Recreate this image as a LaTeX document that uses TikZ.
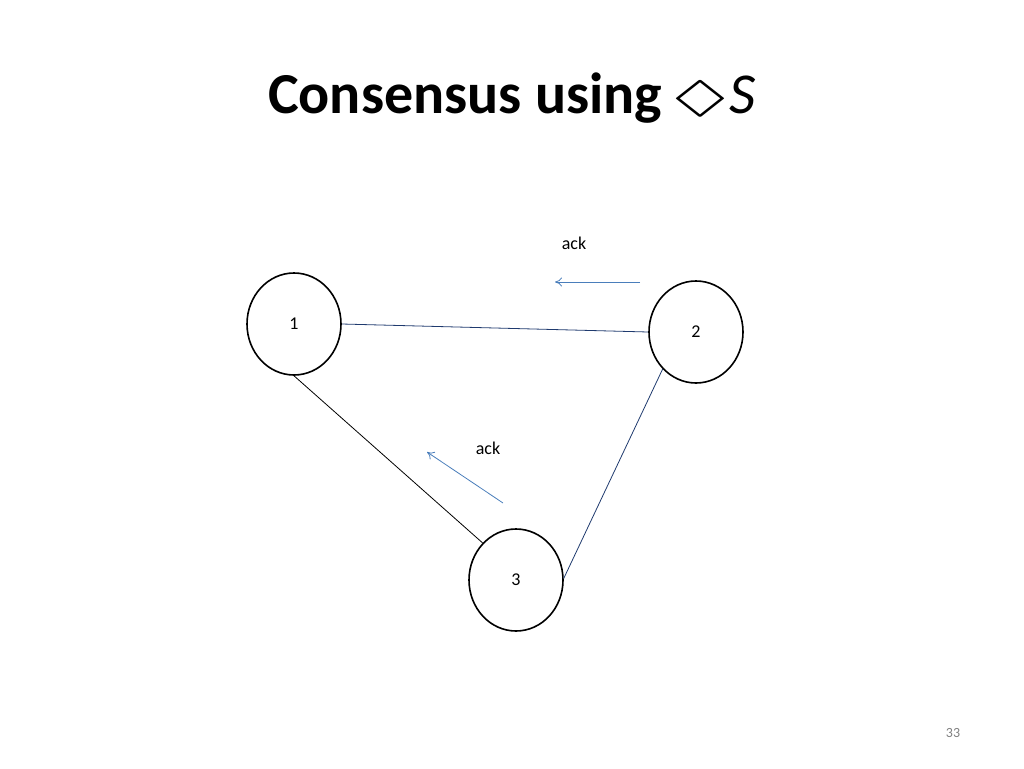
\documentclass[tikz,border=0pt]{standalone}
\usepackage{amssymb}
\usepackage{fontspec}
\setmainfont{Carlito}
\usetikzlibrary{shapes.geometric,arrows.meta}
\definecolor{ackblue}{HTML}{4A7EBB}
\definecolor{edgeblue}{HTML}{1F3A6E}
\begin{document}
\begin{tikzpicture}[x=1pt,y=-1pt,
  proc/.style={draw,line width=1.6pt,ellipse,minimum width=94pt,minimum height=102pt,inner sep=0pt,font=\fontsize{18}{20}\selectfont},
  msg/.style={draw=ackblue,-{To[length=7pt,width=9pt]},line width=0.8pt},
  lbl/.style={font=\fontsize{18}{20}\selectfont}]
\useasboundingbox (0,0) rectangle (1024,768);
\node[font=\bfseries\fontsize{58}{62}\selectfont,anchor=base] (title) at (512,113) {Consensus using\,\raisebox{2pt}{\scalebox{1.5}[0.75]{$\Diamond$}}$\mathit{S}$};
\node[proc] (n1) at (294,324) {1};
\node[proc] (n2) at (696,332) {2};
\node[proc] (n3) at (516,580) {3};
\draw[edgeblue,line width=0.8pt] (n1.east) -- (n2.west);
\draw[black,line width=0.8pt] (n1.south) -- (n3.132);
\draw[edgeblue,line width=0.8pt] (n2.228) -- (n3.2);
\coordinate (a1s) at (640,282); \coordinate (a1e) at (555,282);
\coordinate (a2s) at (503,503); \coordinate (a2e) at (427,452);
\draw[msg] (a1s) -- (a1e);
\draw[msg] (a2s) -- (a2e);
\node[lbl] (ack1) at (574,243) {ack};
\node[lbl] (ack2) at (488,448) {ack};
\node[font=\fontsize{14}{16}\selectfont,text=gray] (pg) at (953,733) {33};
\end{tikzpicture}
\end{document}
